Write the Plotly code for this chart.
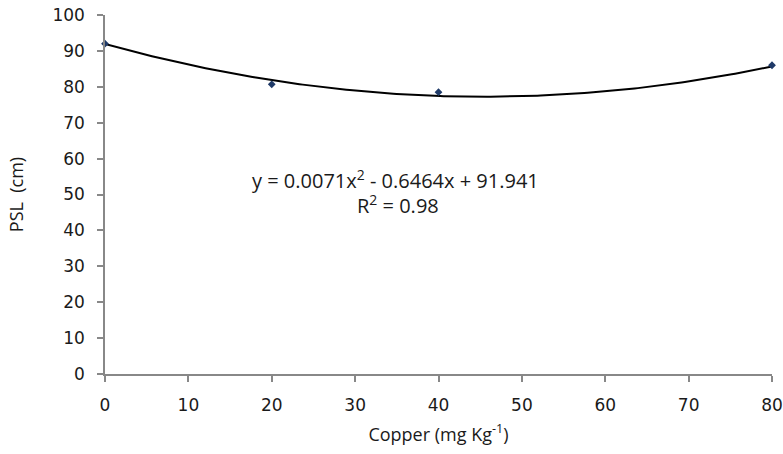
import numpy as np
import plotly.graph_objects as go

# Copper dose (mg Kg-1) and measured PSL (cm)
copper = [0, 20, 40, 80]
psl = [92.0, 80.7, 78.5, 86.0]

# Quadratic trendline coefficients (a*x^2 + b*x + c) and fit quality
coef_a, coef_b, coef_c = 0.0071, -0.6464, 91.941
r_squared = 0.98

x_ticks = list(range(0, 81, 10))
y_ticks = list(range(0, 101, 10))

xs = np.linspace(min(copper), max(copper), 200)
trend = coef_a * xs**2 + coef_b * xs + coef_c

fig = go.Figure()
fig.add_trace(go.Scatter(
    x=xs, y=trend, mode="lines",
    line=dict(color="#000000", width=2),
    hoverinfo="skip", showlegend=False, cliponaxis=False,
))
fig.add_trace(go.Scatter(
    x=copper, y=psl, mode="markers",
    marker=dict(symbol="diamond", size=6, color="#1f3a68"),
    showlegend=False, cliponaxis=False,
))

# Trendline equation and R², one annotation per line
eq_font = dict(family="Open Sans", size=20, color="#1a1a1a")
fig.add_annotation(
    x=34.9, y=54.1, xref="x", yref="y", showarrow=False, font=eq_font,
    text=f"y = {coef_a}x<sup>2</sup> - {abs(coef_b)}x + {coef_c}",
)
fig.add_annotation(
    x=35.2, y=47.2, xref="x", yref="y", showarrow=False, font=eq_font,
    text=f"R<sup>2</sup> = {r_squared}",
)

axis_common = dict(
    showgrid=False, zeroline=False, showline=True,
    linecolor="#888888", linewidth=1.5,
    ticks="outside", ticklen=6, tickcolor="#888888", tickwidth=1.5,
    ticklabelstandoff=9, automargin=False,
    tickfont=dict(family="DejaVu Sans", size=17, color="#1a1a1a"),
)

fig.update_xaxes(
    range=[0, 80], tickvals=x_ticks, **axis_common,
    title=dict(text="Copper (mg Kg<sup>-1</sup>)", standoff=14,
               font=dict(family="Open Sans", size=18, color="#1a1a1a")),
)
fig.update_yaxes(
    range=[0, 100], tickvals=y_ticks, **axis_common,
    title=dict(text="PSL  (cm)", standoff=24,
               font=dict(family="Open Sans", size=18, color="#1a1a1a")),
)

fig.update_layout(
    width=783, height=454,
    margin=dict(l=105, r=11, t=15, b=80),
    paper_bgcolor="white", plot_bgcolor="white",
)

fig.write_html("out.html")
